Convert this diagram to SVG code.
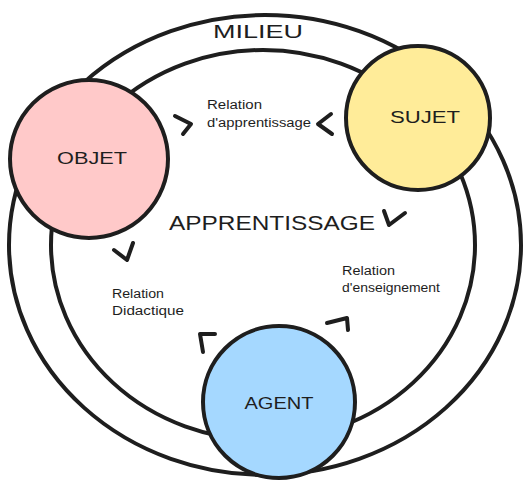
<svg xmlns="http://www.w3.org/2000/svg" width="531" height="487" viewBox="0 0 531 487">
<style>
.ring{fill:none;stroke:#1e1e1e;stroke-width:4}
.node{stroke:#1e1e1e;stroke-width:4}
.lbl{font-family:"Liberation Sans",Arial,sans-serif;fill:#1e1e1e;text-anchor:middle;dominant-baseline:central}
.small{font-family:"Liberation Sans",Arial,sans-serif;fill:#1e1e1e;font-size:12.5px}
.chev{fill:none;stroke:#1e1e1e;stroke-width:4;stroke-linecap:round;stroke-linejoin:round}
</style>
<rect width="531" height="487" fill="#ffffff"/>
<g id="milieu">
<ellipse class="ring" cx="265" cy="245" rx="256" ry="230"/>
<text class="lbl" x="258" y="31" font-size="19" textLength="90" lengthAdjust="spacingAndGlyphs">MILIEU</text>
</g>
<g id="apprentissage">
<ellipse class="ring" cx="263" cy="245" rx="212" ry="195"/>
<text class="lbl" x="272" y="222" font-size="21" textLength="206" lengthAdjust="spacingAndGlyphs">APPRENTISSAGE</text>
</g>
<g id="objet">
<circle class="node" cx="89" cy="159" r="79" fill="#ffc9c9"/>
<text class="lbl" x="92" y="158" font-size="16" textLength="70" lengthAdjust="spacingAndGlyphs">OBJET</text>
</g>
<g id="sujet">
<circle class="node" cx="418" cy="118" r="72" fill="#ffec99"/>
<text class="lbl" x="425" y="117" font-size="16" textLength="70" lengthAdjust="spacingAndGlyphs">SUJET</text>
</g>
<g id="agent">
<circle class="node" cx="279" cy="402" r="76" fill="#a5d8ff"/>
<text class="lbl" x="279" y="403" font-size="16" textLength="69" lengthAdjust="spacingAndGlyphs">AGENT</text>
</g>
<g id="connectors">
<polyline class="chev" points="175,116 191,124 183,134"/>
<polyline class="chev" points="331,114 318,124 332,134"/>
<polyline class="chev" points="384,211 389,225 405,213"/>
<polyline class="chev" points="114,250 127,260 133,243"/>
<polyline class="chev" points="203,352 200,334 215,334"/>
<polyline class="chev" points="327,323 347,318 348,330"/>
</g>
<g id="labels">
<text class="small" x="207" y="109" textLength="55" lengthAdjust="spacingAndGlyphs">Relation</text>
<text class="small" x="207" y="127" textLength="104" lengthAdjust="spacingAndGlyphs">d'apprentissage</text>
<text class="small" x="112" y="298" textLength="52" lengthAdjust="spacingAndGlyphs">Relation</text>
<text class="small" x="112" y="315" textLength="72" lengthAdjust="spacingAndGlyphs">Didactique</text>
<text class="small" x="342" y="275" textLength="53" lengthAdjust="spacingAndGlyphs">Relation</text>
<text class="small" x="342" y="292" textLength="98" lengthAdjust="spacingAndGlyphs">d'enseignement</text>
</g>
</svg>
